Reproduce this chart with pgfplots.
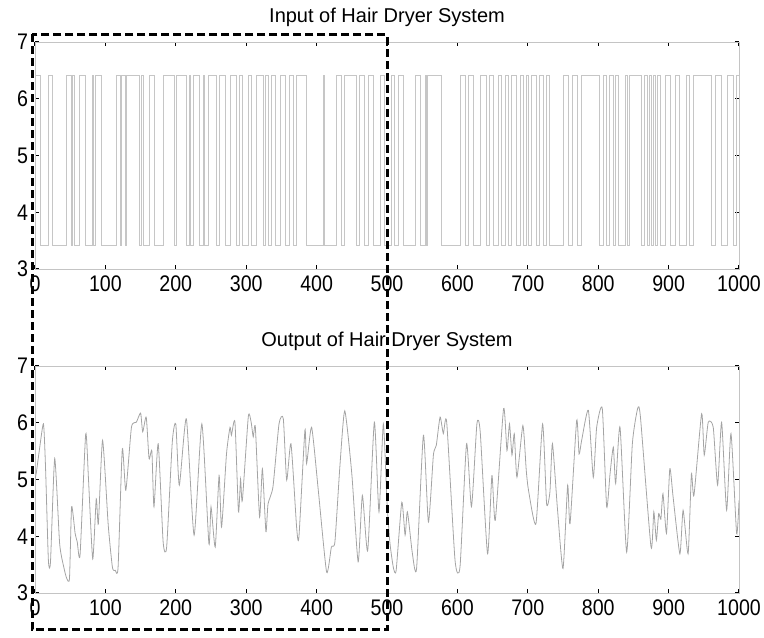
\documentclass[border=0pt]{standalone}
\usepackage{pgfplots}
\pgfplotsset{compat=1.18}
\usepackage{fontspec}
\setmainfont{Liberation Sans}
\definecolor{boxgray}{HTML}{C4C4C4}
\definecolor{ingray}{HTML}{C6C6C6}
\definecolor{outgray}{HTML}{A4A4A4}

\pgfplotsset{
  dryer/.style={
    scale only axis,
    width=352pt, height=113.5pt,
    xmin=0, xmax=1000, ymin=3, ymax=7,
    xtick distance=100,
    ytick={3,4,5,6,7},
    axis line style={boxgray},
    tick align=inside,
    major tick length=2pt,
    every tick/.style={black, line width=0.6pt},
    tick label style={font=\fontsize{9.8}{12}\selectfont},
    xticklabel={\scalebox{1}[1.15]{\pgfmathprintnumber{\tick}}},
    yticklabel={\scalebox{1}[1.15]{\pgfmathprintnumber{\tick}}},
    /pgf/number format/assume math mode=true,
    /pgf/number format/1000 sep={},
    title style={font=\fontsize{10}{12}\selectfont, yshift=-2pt},
  }
}

\begin{document}
\begin{tikzpicture}
  % input: binary signal, const plot holds each level until the next switch
  \begin{axis}[dryer, name=top, at={(0,162pt)}, title={Input of Hair Dryer System}]
    \addplot[ingray, line width=0.4pt, const plot] coordinates {
      (0,6.41) (8,3.41) (19,6.41) (25,3.41) (45,6.41) (51,3.41) (53,6.41) (56,3.41)
      (63,6.41) (71,3.41) (81,6.41) (83,3.41) (86,6.41) (95,3.41) (116,6.41) (121,3.41)
      (123,6.41) (128,3.41) (130,6.41) (149,3.41) (151,6.41) (154,3.41) (163,6.41) (170,3.41)
      (182,6.41) (198,3.41) (201,6.41) (215,3.41) (219,6.41) (221,3.41) (225,6.41) (234,3.41)
      (239,6.41) (241,3.41) (246,6.41) (258,3.41) (262,6.41) (270,3.41) (277,6.41) (286,3.41)
      (290,6.41) (294,3.41) (303,6.41) (308,3.41) (315,6.41) (325,3.41) (327,6.41) (331,3.41)
      (336,6.41) (341,3.41) (348,6.41) (355,3.41) (362,6.41) (367,3.41) (372,6.41) (386,3.41)
      (409,6.41) (411,3.41) (428,6.41) (435,3.41) (440,6.41) (457,3.41) (461,6.41) (468,3.41)
      (473,6.41) (480,3.41) (490,6.41) (497,3.41) (506,6.41) (511,3.41) (516,6.41) (523,3.41)
      (540,6.41) (547,3.41) (554,6.41) (556,3.41) (558,6.41) (577,3.41) (604,6.41) (611,3.41)
      (615,6.41) (623,3.41) (632,6.41) (641,3.41) (646,6.41) (651,3.41) (658,6.41) (663,3.41)
      (668,6.41) (672,3.41) (677,6.41) (684,3.41) (689,6.41) (694,3.41) (698,6.41) (701,3.41)
      (705,6.41) (712,3.41) (717,6.41) (722,3.41) (726,6.41) (731,3.41) (750,6.41) (758,3.41)
      (764,6.41) (771,3.41) (776,6.41) (802,3.41) (807,6.41) (812,3.41) (816,6.41) (821,3.41)
      (824,6.41) (829,3.41) (838,6.41) (842,3.41) (845,6.41) (862,3.41) (866,6.41) (870,3.41)
      (873,6.41) (876,3.41) (879,6.41) (881,3.41) (884,6.41) (889,3.41) (895,6.41) (902,3.41)
      (909,6.41) (915,3.41) (925,6.41) (929,3.41) (935,6.41) (961,3.41) (966,6.41) (975,3.41)
      (983,6.41) (992,3.41) (996,6.41) (1000,6.41)
    };
    \coordinate (boxA) at (axis cs:-4,7.14);
  \end{axis}

  \begin{axis}[dryer, name=bot, at={(0,0)}, title={Output of Hair Dryer System}]
    \addplot[outgray, line width=0.4pt, smooth, tension=0.35] coordinates {
      (0,5.0) (2,5.13) (6,5.5) (12,5.98) (15,5.2) (19,3.58) (22,3.55) (28,5.37)
      (35,3.87) (41,3.45) (45,3.26) (49,3.26) (52,4.52) (57,4.05) (60,3.9) (64,3.67)
      (72,5.8) (76,5.0) (82,3.6) (87,4.66) (90,4.22) (96,5.69) (104,4.2) (110,3.45)
      (114,3.4) (118,3.45) (124,5.54) (129,4.81) (137,5.92) (144,6.01) (150,6.17) (153,5.84)
      (158,6.1) (162,5.37) (166,5.5) (169,4.52) (175,5.63) (182,3.9) (187,3.81) (195,5.66)
      (200,5.98) (205,4.9) (215,6.07) (226,4.02) (237,5.98) (247,3.87) (250,4.52) (256,3.81)
      (261.5,5.07) (265,4.16) (272,5.45) (277,5.92) (279,5.78) (284,6.01) (289,4.43) (292,5.01)
      (294.5,4.63) (303,6.11) (307,6.01) (310,5.75) (313,5.92) (319,4.34) (323,5.19) (328,4.08)
      (331,4.57) (338,4.87) (346.6,5.98) (352.7,6.07) (357.5,4.99) (363.6,5.63) (371.6,4.16) (374.9,3.99)
      (383.4,5.87) (385.8,5.28) (392.9,5.92) (402.4,4.81) (414.2,3.37) (421,3.81) (426,3.9) (433,5.22)
      (440,6.21) (450,5.10) (459,3.55) (465,4.72) (472.6,3.75) (482,6.01) (488.6,4.43) (494.8,5.98)
      (500,4.6) (504,3.9) (509,3.45) (513,3.40) (521,4.6) (525.7,4.02) (529,4.43) (536,3.7)
      (542,3.43) (551.7,5.78) (558.8,4.25) (565.9,5.43) (570,5.6) (575.4,6.10) (580,5.81) (584.8,6.01)
      (596.6,3.58) (603.7,3.46) (613,5.63) (620,4.52) (627.7,5.98) (632.4,5.84) (642.8,3.69) (649,5.07)
      (653.8,4.28) (665.6,6.25) (670.4,5.51) (674,5.98) (677.5,5.43) (680.8,5.81) (684.6,5.04) (693,5.95)
      (697.8,5.16) (701,4.81) (711.6,4.22) (721,5.98) (726.7,4.57) (731.4,4.78) (735,5.63) (742,4.5)
      (750,3.43) (756.6,4.9) (760,4.22) (769.4,6.04) (772.8,5.45) (776.5,5.69) (786,6.22) (793,5.04)
      (797.8,5.92) (805.8,6.25) (812,4.52) (816.8,5.1) (821.5,5.57) (824.8,4.93) (831,5.92) (840.4,3.72)
      (848.5,5.63) (856,6.25) (860,6.1) (875,3.81) (879,4.43) (882.6,3.93) (885.9,4.4) (889,4.3)
      (892,4.75) (897,4.05) (901.7,5.19) (906.4,4.69) (916,3.69) (920.6,4.46) (927.7,3.69) (932.4,5.1)
      (936,4.72) (946.9,6.16) (950.6,5.43) (956.3,6.01) (963.4,5.92) (969.6,4.9) (975.3,6.01) (982.4,4.46)
      (988.6,5.81) (996.6,4.05) (1000,4.63)
    };
    \coordinate (boxB) at (axis cs:500,2.35);
  \end{axis}

  % dashed frame round the first 500 samples of both plots
  \draw[black, line width=1.5pt, dash pattern=on 4pt off 2pt] (boxA) rectangle (boxB);

  \pgfresetboundingbox
  \path[use as bounding box] (-17.5pt,-22pt) rectangle (364.5pt,296.5pt);
\end{tikzpicture}
\end{document}
